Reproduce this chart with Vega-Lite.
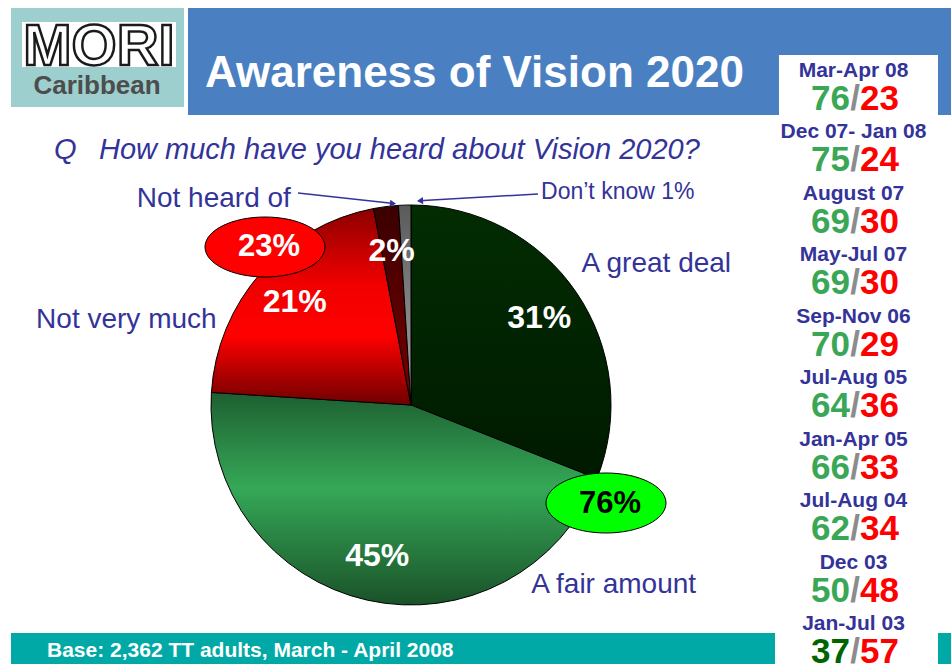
{
  "$schema": "https://vega.github.io/schema/vega-lite/v6.json",
  "padding": {"top": 8, "left": 0, "right": 0, "bottom": 0},
  "background": "white",
  "spacing": 0,
  "config": {"view": {"stroke": null}, "font": "Liberation Sans", "concat": {"spacing": 0}},
  "hconcat": [
    {
      "spacing": 0,
      "vconcat": [
        {
          "spacing": 0,
          "hconcat": [
            {"width": 11, "height": 99, "data": {"values": [{}]}, "mark": {"type": "text"}, "encoding": {"text": {"value": ""}}},
            {
              "width": 173, "height": 99,
              "view": {"fill": "#9ccfcd", "stroke": null},
              "data": {"values": [{}]},
              "layer": [
                {"mark": {"type": "rect", "fill": "white"}, "encoding": {"x": {"value": 11}, "x2": {"value": 165}, "y": {"value": 14}, "y2": {"value": 59}}},
                {"mark": {"type": "text", "text": "MORI", "fontSize": 58, "fontWeight": "bold", "fill": "white", "stroke": "#1a1a1a", "strokeWidth": 2.5, "align": "center", "baseline": "middle"}, "encoding": {"x": {"value": 88}, "y": {"value": 40}}},
                {"mark": {"type": "text", "text": "Caribbean", "fontSize": 26, "fontWeight": "bold", "color": "#4d4d4d", "align": "center", "baseline": "middle"}, "encoding": {"x": {"value": 86}, "y": {"value": 78}}}
              ]
            },
            {"width": 4, "height": 99, "data": {"values": [{}]}, "mark": {"type": "text"}, "encoding": {"text": {"value": ""}}},
            {
              "width": 587, "height": 107,
              "view": {"fill": "#4a7fc1", "stroke": null},
              "data": {"values": [{}]},
              "mark": {"type": "text", "text": "Awareness of Vision 2020", "fontSize": 44, "fontWeight": "bold", "color": "white", "align": "left", "baseline": "middle"},
              "encoding": {"x": {"value": 17}, "y": {"value": 66}}
            }
          ]
        },
        {
          "width": 775, "height": 62,
          "data": {"values": [{}]},
          "layer": [
            {"mark": {"type": "text", "text": "Q", "fontSize": 29, "fontStyle": "italic", "color": "#333399", "align": "left", "baseline": "middle"}, "encoding": {"x": {"value": 54}, "y": {"value": 35}}},
            {"mark": {"type": "text", "text": "How much have you heard about Vision 2020?", "fontSize": 29, "fontStyle": "italic", "color": "#333399", "align": "left", "baseline": "middle"}, "encoding": {"x": {"value": 99}, "y": {"value": 35}}}
          ]
        },
        {
          "width": 775, "height": 456,
          "layer": [
            {
              "data": {"values": [
                {"cat": "A great deal", "value": 31, "o": 1},
                {"cat": "A fair amount", "value": 45, "o": 2},
                {"cat": "Not very much", "value": 21, "o": 3},
                {"cat": "Not heard of", "value": 2, "o": 4},
                {"cat": "Don't know", "value": 1, "o": 5}
              ]},
              "mark": {"type": "arc", "radius": 200, "stroke": "#000000", "strokeWidth": 1},
              "encoding": {
                "x": {"value": 411}, "y": {"value": 228},
                "theta": {"field": "value", "type": "quantitative", "stack": true},
                "order": {"field": "o", "type": "quantitative"},
                "fill": {
                  "condition": [
                    {"test": "datum.cat === 'A great deal'", "value": {"gradient": "linear", "x1": 0, "y1": 0, "x2": 0, "y2": 1, "stops": [{"offset": 0, "color": "#022c02"}, {"offset": 1, "color": "#001a00"}]}},
                    {"test": "datum.cat === 'A fair amount'", "value": {"gradient": "linear", "x1": 0, "y1": 0, "x2": 0, "y2": 1, "stops": [{"offset": 0, "color": "#1e5f31"}, {"offset": 0.45, "color": "#35a857"}, {"offset": 1, "color": "#1a5229"}]}},
                    {"test": "datum.cat === 'Not very much'", "value": {"gradient": "linear", "x1": 0, "y1": 0, "x2": 0, "y2": 1, "stops": [{"offset": 0, "color": "#8c0000"}, {"offset": 0.38, "color": "#f00000"}, {"offset": 0.65, "color": "#ff0000"}, {"offset": 1, "color": "#6e0000"}]}},
                    {"test": "datum.cat === 'Not heard of'", "value": {"gradient": "linear", "x1": 0, "y1": 0, "x2": 0, "y2": 1, "stops": [{"offset": 0, "color": "#3a0000"}, {"offset": 1, "color": "#7a0000"}]}}
                  ],
                  "value": {"gradient": "linear", "x1": 0, "y1": 0, "x2": 0, "y2": 1, "stops": [{"offset": 0, "color": "#5a5a5a"}, {"offset": 1, "color": "#a8a8a8"}]}
                }
              }
            },
            {
              "data": {"values": [
                {"cat": "A great deal", "value": 31, "o": 1},
                {"cat": "A fair amount", "value": 45, "o": 2},
                {"cat": "Not very much", "value": 21, "o": 3},
                {"cat": "Not heard of", "value": 2, "o": 4},
                {"cat": "Don't know", "value": 1, "o": 5}
              ]},
              "transform": [{"filter": "datum.value >= 2"}, {"calculate": "datum.value + '%'", "as": "lbl"}],
              "mark": {"type": "text", "radius": 155, "fontSize": 32, "fontWeight": "bold", "color": "white", "baseline": "middle"},
              "encoding": {
                "x": {"value": 411}, "y": {"value": 228},
                "theta": {"field": "value", "type": "quantitative", "stack": true},
                "order": {"field": "o", "type": "quantitative"},
                "text": {"field": "lbl"}
              }
            },
            {
              "data": {"values": [{}]},
              "mark": {"type": "point", "shape": "M-1,0C-1,-0.276 -0.552,-0.5 0,-0.5C0.552,-0.5 1,-0.276 1,0C1,0.276 0.552,0.5 0,0.5C-0.552,0.5 -1,0.276 -1,0Z", "size": 14400, "filled": true, "fill": "#ff0000", "stroke": "#000000", "strokeWidth": 1, "opacity": 1},
              "encoding": {"x": {"value": 265}, "y": {"value": 70}}
            },
            {
              "data": {"values": [{}]},
              "mark": {"type": "point", "shape": "M-1,0C-1,-0.276 -0.552,-0.5 0,-0.5C0.552,-0.5 1,-0.276 1,0C1,0.276 0.552,0.5 0,0.5C-0.552,0.5 -1,0.276 -1,0Z", "size": 14400, "filled": true, "fill": "#00ff00", "stroke": "#000000", "strokeWidth": 1, "opacity": 1},
              "encoding": {"x": {"value": 606}, "y": {"value": 326}}
            },
            {
              "data": {"values": [{}]},
              "mark": {"type": "text", "text": "23%", "fontSize": 31, "fontWeight": "bold", "color": "white", "baseline": "middle"},
              "encoding": {"x": {"value": 269}, "y": {"value": 70}}
            },
            {
              "data": {"values": [{}]},
              "mark": {"type": "text", "text": "76%", "fontSize": 31, "fontWeight": "bold", "color": "black", "baseline": "middle"},
              "encoding": {"x": {"value": 610}, "y": {"value": 327}}
            },
            {"data": {"values": [{}]}, "mark": {"type": "text", "text": "A great deal", "theta": 1.049, "radius": 283, "fontSize": 28, "color": "#333399", "baseline": "middle"}, "encoding": {"x": {"value": 411}, "y": {"value": 228}}},
            {"data": {"values": [{}]}, "mark": {"type": "text", "text": "A fair amount", "theta": 2.297, "radius": 271, "fontSize": 28, "color": "#333399", "baseline": "middle"}, "encoding": {"x": {"value": 411}, "y": {"value": 228}}},
            {"data": {"values": [{}]}, "mark": {"type": "text", "text": "Not very much", "theta": 5.002, "radius": 297, "fontSize": 28, "color": "#333399", "baseline": "middle"}, "encoding": {"x": {"value": 411}, "y": {"value": 228}}},
            {"data": {"values": [{}]}, "mark": {"type": "text", "text": "Not heard of", "theta": 5.519, "radius": 285, "fontSize": 28, "color": "#333399", "baseline": "middle"}, "encoding": {"x": {"value": 411}, "y": {"value": 228}}},
            {"data": {"values": [{}]}, "mark": {"type": "text", "text": "Don’t know 1%", "theta": 0.770, "radius": 297, "fontSize": 23, "color": "#333399", "baseline": "middle"}, "encoding": {"x": {"value": 411}, "y": {"value": 228}}},
            {
              "data": {"values": [{}]},
              "mark": {"type": "rule", "color": "#333399", "strokeWidth": 1.5},
              "encoding": {"x": {"value": 298}, "y": {"value": 16}, "x2": {"value": 394}, "y2": {"value": 26.5}}
            },
            {
              "data": {"values": [{}]},
              "mark": {"type": "rule", "color": "#333399", "strokeWidth": 1.5},
              "encoding": {"x": {"value": 538}, "y": {"value": 17}, "x2": {"value": 419}, "y2": {"value": 23.8}}
            },
            {
              "data": {"values": [{}]},
              "mark": {"type": "point", "shape": "triangle-right", "size": 50, "angle": 6, "filled": true, "color": "#333399", "opacity": 1},
              "encoding": {"x": {"value": 393}, "y": {"value": 26.5}}
            },
            {
              "data": {"values": [{}]},
              "mark": {"type": "point", "shape": "triangle-left", "size": 50, "angle": -3, "filled": true, "color": "#333399", "opacity": 1},
              "encoding": {"x": {"value": 420}, "y": {"value": 23.8}}
            }
          ]
        },
        {
          "spacing": 0,
          "hconcat": [
            {"width": 11, "height": 31, "data": {"values": [{}]}, "mark": {"type": "text"}, "encoding": {"text": {"value": ""}}},
            {
              "width": 764, "height": 31,
              "view": {"fill": "#00a9a6", "stroke": null},
              "data": {"values": [{}]},
              "mark": {"type": "text", "text": "Base: 2,362 TT adults, March - April 2008", "fontSize": 21, "fontWeight": "bold", "color": "white", "align": "left", "baseline": "middle"},
              "encoding": {"x": {"value": 36}, "y": {"value": 18}}
            }
          ]
        }
      ]
    },
    {
      "spacing": 0,
      "vconcat": [
        {"width": 4, "height": 107, "view": {"fill": "#4a7fc1", "stroke": null}, "data": {"values": [{}]}, "mark": {"type": "text"}, "encoding": {"text": {"value": ""}}}
      ]
    },
    {
      "spacing": 0,
      "vconcat": [
        {"width": 159, "height": 47, "view": {"fill": "#4a7fc1", "stroke": null}, "data": {"values": [{}]}, "mark": {"type": "text"}, "encoding": {"text": {"value": ""}}},
        {
          "width": 159, "height": 609,
          "data": {"values": [
            {"period": "Mar-Apr 08", "aware": 76, "unaware": 23},
            {"period": "Dec 07- Jan 08", "aware": 75, "unaware": 24},
            {"period": "August 07", "aware": 69, "unaware": 30},
            {"period": "May-Jul 07", "aware": 69, "unaware": 30},
            {"period": "Sep-Nov 06", "aware": 70, "unaware": 29},
            {"period": "Jul-Aug 05", "aware": 64, "unaware": 36},
            {"period": "Jan-Apr 05", "aware": 66, "unaware": 33},
            {"period": "Jul-Aug 04", "aware": 62, "unaware": 34},
            {"period": "Dec 03", "aware": 50, "unaware": 48},
            {"period": "Jan-Jul 03", "aware": 37, "unaware": 57}
          ]},
          "encoding": {
            "y": {"field": "period", "type": "nominal", "sort": null, "scale": {"type": "point", "range": [16, 569], "padding": 0}, "axis": null}
          },
          "layer": [
            {"mark": {"type": "text", "fontSize": 21, "fontWeight": "bold", "color": "#333399", "dx": -5, "baseline": "middle"}, "encoding": {"text": {"field": "period"}}},
            {"mark": {"type": "text", "fontSize": 35, "fontWeight": "bold", "align": "right", "dx": -8.5, "dy": 28, "baseline": "middle"}, "encoding": {"text": {"field": "aware"}, "color": {"condition": {"test": "datum.period === 'Jan-Jul 03'", "value": "#006400"}, "value": "#3aa757"}}},
            {"mark": {"type": "text", "text": "/", "fontSize": 35, "fontWeight": "bold", "color": "#8c8c8c", "dx": -3.5, "dy": 28, "baseline": "middle"}},
            {"mark": {"type": "text", "fontSize": 35, "fontWeight": "bold", "color": "#ff0000", "align": "left", "dx": 1.5, "dy": 28, "baseline": "middle"}, "encoding": {"text": {"field": "unaware"}}}
          ]
        }
      ]
    },
    {
      "spacing": 0,
      "vconcat": [
        {"width": 13, "height": 107, "view": {"fill": "#4a7fc1", "stroke": null}, "data": {"values": [{}]}, "mark": {"type": "text"}, "encoding": {"text": {"value": ""}}},
        {"width": 13, "height": 518, "data": {"values": [{}]}, "mark": {"type": "text"}, "encoding": {"text": {"value": ""}}},
        {"width": 13, "height": 31, "view": {"fill": "#00a9a6", "stroke": null}, "data": {"values": [{}]}, "mark": {"type": "text"}, "encoding": {"text": {"value": ""}}}
      ]
    }
  ]
}
